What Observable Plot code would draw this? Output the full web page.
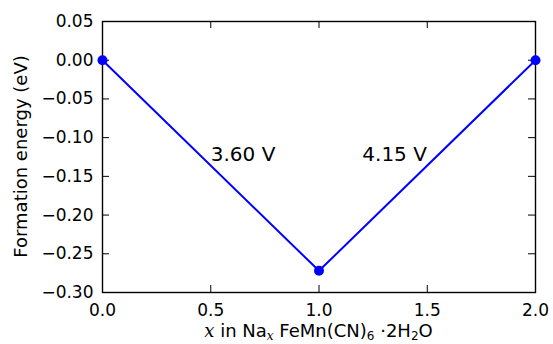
<!DOCTYPE html>
<html>
<head>
<meta charset="utf-8">
<script src="https://cdn.jsdelivr.net/npm/d3@7"></script>
<script src="https://cdn.jsdelivr.net/npm/@observablehq/plot@0.6"></script>
<style>
  html, body { margin: 0; padding: 0; background: #fff; }
</style>
</head>
<body>
<div id="chart"></div>
<script>
// Sodium content x and computed formation energy (eV) of the hull vertices
const sodiumContent = [0, 1, 2];
const formationEnergy = [0, -0.272, 0];

// Average voltage for each step along the hull
const stepVoltage = ["3.60 V", "4.15 V"];
const stepLabelX = [0.5, 1.2];
const stepLabelY = [-0.13, -0.13];

// Tick values
const xTicks = [0, 0.5, 1.0, 1.5, 2.0];
const yTicks = [0.05, 0, -0.05, -0.10, -0.15, -0.20, -0.25, -0.30];

const W = 553, H = 344;
const mL = 102, mR = 18, mT = 21, mB = 52;
const plotW = W - mL - mR, plotH = H - mT - mB;
const tickLen = 7;

const hull = sodiumContent.map((x, i) => ({x, e: formationEnergy[i]}));
const steps = stepVoltage.map((t, i) => ({t, x: stepLabelX[i], y: stepLabelY[i]}));

const chart = Plot.plot({
  width: W,
  height: H,
  marginLeft: mL,
  marginRight: mR,
  marginTop: mT,
  marginBottom: mB,
  style: {fontFamily: "DejaVu Sans", fontSize: "17px", color: "#000", background: "#fff", overflow: "visible"},
  x: {domain: [0, 2]},
  y: {domain: [-0.30, 0.05]},
  marks: [
    Plot.axisX(xTicks, {tickSize: 0, tickPadding: 11, tickFormat: d3.format(".1f"), label: null, fontSize: 17}),
    Plot.axisY(yTicks, {tickSize: 0, tickPadding: 9, tickFormat: d3.format(".2f"), label: null, fontSize: 17}),
    // inward ticks on all four sides
    Plot.tickX(xTicks, {x: d => d, insetTop: plotH - tickLen, stroke: "#000", strokeWidth: 1}),
    Plot.tickX(xTicks, {x: d => d, insetBottom: plotH - tickLen, stroke: "#000", strokeWidth: 1}),
    Plot.tickY(yTicks, {y: d => d, insetRight: plotW - tickLen, stroke: "#000", strokeWidth: 1}),
    Plot.tickY(yTicks, {y: d => d, insetLeft: plotW - tickLen, stroke: "#000", strokeWidth: 1}),
    Plot.frame({stroke: "#000", strokeWidth: 1.4}),
    Plot.line(hull, {x: "x", y: "e", stroke: "#0000ff", strokeWidth: 2}),
    Plot.dot(hull, {x: "x", y: "e", r: 5, fill: "#0000ff", stroke: "none"}),
    Plot.text(steps, {x: "x", y: "y", text: "t", textAnchor: "start", lineAnchor: "bottom", fontSize: 20, fill: "#000"})
  ]
});

document.getElementById("chart").appendChild(chart);

// Axis titles (x title carries chemical subscripts)
const svg = d3.select(chart);
svg.append("text")
  .attr("transform", `translate(27,${mT + plotH / 2}) rotate(-90)`)
  .attr("text-anchor", "middle")
  .attr("font-family", "DejaVu Sans")
  .attr("font-size", 18)
  .attr("fill", "#000")
  .text("Formation energy (eV)");

const xt = svg.append("text")
  .attr("x", mL + plotW / 2)
  .attr("y", 337)
  .attr("text-anchor", "middle")
  .attr("font-family", "DejaVu Sans")
  .attr("font-size", 18)
  .attr("fill", "#000");
const parts = [
  {s: "x", serif: true},
  {s: " in Na"},
  {s: "x", serif: true, sub: true},
  {s: " FeMn(CN)"},
  {s: "6", sub: true},
  {s: " \u00b72H"},
  {s: "2", sub: true},
  {s: "O"}
];
let shifted = false;
for (const p of parts) {
  const ts = xt.append("tspan").text(p.s);
  if (p.serif) ts.attr("font-family", "DejaVu Serif").attr("font-style", "italic");
  if (p.sub) { ts.attr("font-size", 12).attr("dy", 3); shifted = true; }
  else if (shifted) { ts.attr("dy", -3); shifted = false; }
}
</script>
</body>
</html>
